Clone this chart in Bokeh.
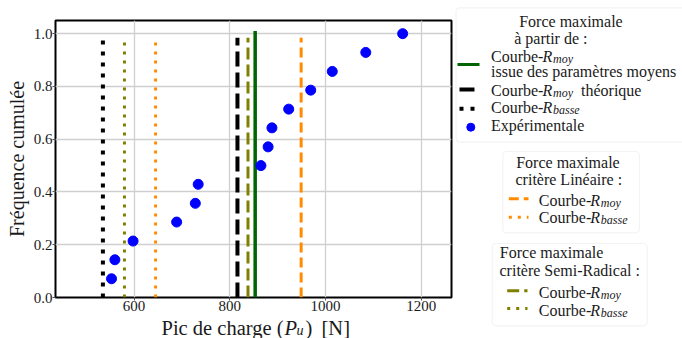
from bokeh.plotting import figure
from bokeh.layouts import row, column
from bokeh.models import Range1d, FixedTicker, PrintfTickFormatter, BoxAnnotation
from bokeh.core.properties import value
from bokeh.embed import file_html
from bokeh.resources import INLINE

# ---------------- data ----------------
exp_load = [553, 560, 598, 689, 728, 734, 865, 880, 888, 923, 969, 1014, 1084, 1161]
exp_freq = [0.071, 0.143, 0.214, 0.286, 0.357, 0.429, 0.5, 0.571, 0.643, 0.714,
            0.786, 0.857, 0.929, 1.0]

# maximal force (vertical lines)
f_rmoy_params = 853     # Courbe-Rmoy issue des parametres moyens
f_rmoy_theo = 816       # Courbe-Rmoy theorique
f_rbasse = 535          # Courbe-Rbasse
f_lin_rmoy = 949        # critere lineaire, Rmoy
f_lin_rbasse = 645      # critere lineaire, Rbasse
f_semi_rmoy = 838       # critere semi-radical, Rmoy
f_semi_rbasse = 580     # critere semi-radical, Rbasse
line_top = 0.985
green_top = 1.01

x_ticks = [600, 800, 1000, 1200]
y_ticks = [0.0, 0.2, 0.4, 0.6, 0.8, 1.0]

SERIF = "Liberation Serif"
GREEN = "#006400"
ORANGE = "#ff8c00"
OLIVE = "#808000"
TXT = "#1a1a1a"
DY = -6  # baseline correction for text glyphs
LEG_FS = "16px"

# ---------------- main plot ----------------
p = figure(width=453, height=318, x_range=Range1d(436, 1263), y_range=Range1d(0, 1.05),
           output_backend="svg", toolbar_location=None, title=None,
           min_border_left=55, min_border_right=2, min_border_top=20, min_border_bottom=21)
p.outline_line_color = "black"
p.outline_line_width = 2
p.background_fill_color = "white"
p.border_fill_color = "white"

p.xaxis.ticker = FixedTicker(ticks=x_ticks)
p.yaxis.ticker = FixedTicker(ticks=y_ticks)
p.yaxis.formatter = PrintfTickFormatter(format="%.1f")
for ax in (p.xaxis, p.yaxis):
    ax.axis_line_color = None
    ax.major_tick_out = 3
    ax.major_tick_in = 0
    ax.minor_tick_out = 0
    ax.minor_tick_in = 0
    ax.major_tick_line_color = "#555555"
    ax.major_label_text_font = SERIF
    ax.major_label_text_font_size = "15px"
    ax.major_label_text_color = TXT
    ax.major_label_standoff = 0
p.yaxis.axis_label = "Fréquence cumulée"
p.yaxis.axis_label_text_font = SERIF
p.yaxis.axis_label_text_font_size = "20px"
p.yaxis.axis_label_text_font_style = "normal"
p.yaxis.axis_label_text_color = TXT
p.yaxis.axis_label_standoff = 3

p.xgrid.ticker = FixedTicker(ticks=x_ticks)
p.ygrid.ticker = FixedTicker(ticks=y_ticks)
p.grid.grid_line_color = "#cfcfcf"
p.grid.grid_line_width = 1.3

vlines = [
    (f_rbasse, line_top, "black", 4, "4 7"),
    (f_semi_rbasse, line_top, OLIVE, 3, "3 6"),
    (f_lin_rbasse, line_top, ORANGE, 3, "3 6"),
    (f_rmoy_theo, line_top, "black", 4, "15 6"),
    (f_semi_rmoy, line_top, OLIVE, 3, "12 5"),
    (f_lin_rmoy, line_top, ORANGE, 3, "10 5"),
    (f_rmoy_params, green_top, GREEN, 3.5, "solid"),
]
for xv, top, col, w, dash in vlines:
    p.segment(x0=[xv], y0=[0], x1=[xv], y1=[top], line_color=col, line_width=w, line_dash=dash)

p.scatter(exp_load, exp_freq, size=10, color="blue")

# ---------------- x axis label (with subscript) ----------------
xl = figure(width=453, height=20, x_range=Range1d(0, 453), y_range=Range1d(-338, -318),
            output_backend="svg", toolbar_location=None, frame_align=False, title=None,
            x_axis_location=None, y_axis_location=None, min_border=0)
xl.outline_line_color = None
xl.grid.visible = False
xl.background_fill_color = "white"
xl.border_fill_color = "white"
xlab_parts = [
    (161, 333.3, "Pic de charge (", "normal", "20.5px"),
    (284, 333.3, "P", "italic", "20.5px"),
    (296, 336.3, "u", "italic", "14px"),
    (305, 333.3, ")", "normal", "20.5px"),
    (321, 333.3, "[N]", "normal", "20.5px"),
]
for xv, yv, t, st, fs in xlab_parts:
    xl.text(x=[xv], y=[-(yv + DY)], text=[t], text_font=value(SERIF), text_font_size=value(fs),
            text_font_style=st, text_baseline="alphabetic", text_align="left", text_color=TXT)

# ---------------- legends panel ----------------
leg = figure(width=229, height=338, x_range=Range1d(453, 682), y_range=Range1d(-338, 0),
             output_backend="svg", toolbar_location=None, frame_align=False, title=None,
             x_axis_location=None, y_axis_location=None, min_border=0)
leg.outline_line_color = None
leg.grid.visible = False
leg.background_fill_color = "white"
leg.border_fill_color = "white"


def box(l, r, t, b):
    leg.add_layout(BoxAnnotation(left=l, right=r, top=-t, bottom=-b, fill_color="white",
                                 fill_alpha=0.85, line_color="#d8d8d8", line_width=1.2,
                                 border_radius=4, level="underlay"))


def txt(x, y, s, style="normal", size=LEG_FS):
    leg.text(x=[x], y=[-(y + DY)], text=[s], text_font=value(SERIF), text_font_size=value(size),
             text_font_style=style, text_baseline="alphabetic", text_align="left",
             text_color=TXT)


def courbe(x, y, sub, extra=None):
    txt(x, y, "Courbe-")
    txt(x + 51.5, y, "R", "italic")
    txt(x + 62, y + 2.5, sub, "italic", "12px")
    if extra:
        txt(x + 90, y, extra)


def handle(x0, x1, y, col, w, dash):
    leg.segment(x0=[x0], y0=[-y], x1=[x1], y1=[-y], line_color=col, line_width=w, line_dash=dash)


# legend 1
box(455.5, 700, 7.3, 141.7)
txt(518.7, 27, "Force maximale")
txt(513.7, 44, "à partir de :")
handle(457, 479, 64, GREEN, 3, "solid")
courbe(490.5, 61.5, "moy")
txt(490.5, 77, "issue des paramètres moyens")
handle(459, 475, 89, "black", 4, "15 6")
courbe(490.5, 95.5, "moy", "théorique")
handle(459, 479, 108.3, "black", 4, "4 7")
courbe(490.5, 113, "basse")
leg.scatter([470.3], [-126.7], size=8, color="blue")
txt(490.5, 130.5, "Expérimentale")

# legend 2
box(502.3, 639, 151, 232.3)
txt(515.7, 167.5, "Force maximale")
txt(515, 185, "critère Linéaire :")
handle(508.3, 528, 198.3, ORANGE, 3, "10 5")
courbe(538.3, 205.5, "moy")
handle(508.3, 528, 216.7, ORANGE, 3, "3 6")
courbe(538.3, 223, "basse")

# legend 3
box(491.7, 646.7, 243, 325.3)
txt(499.3, 258, "Force maximale")
txt(499, 276, "critère Semi-Radical :")
handle(506.7, 527, 290.3, OLIVE, 3, "12 5")
courbe(538.3, 297.5, "moy")
handle(506.7, 527, 308, OLIVE, 3, "3 6")
courbe(538.3, 315.5, "basse")

layout = row(column(p, xl, spacing=0), leg, spacing=0)
open("out.html", "w").write(file_html(layout, INLINE))
